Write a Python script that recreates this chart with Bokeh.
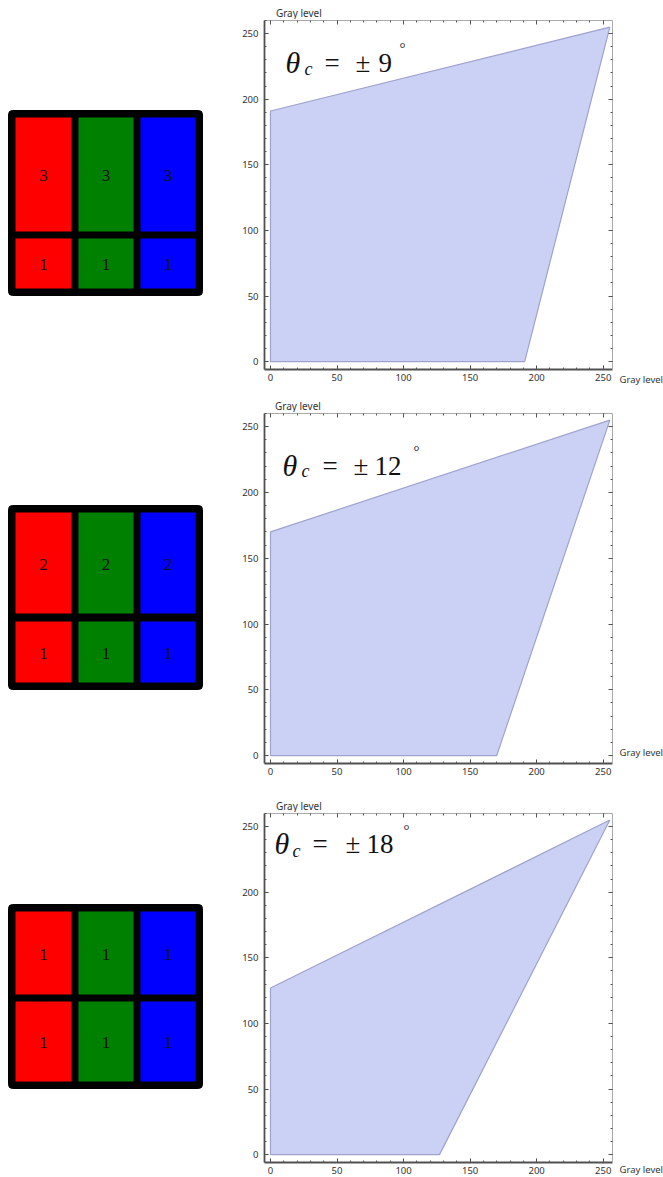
from bokeh.plotting import figure
from bokeh.layouts import column, row
from bokeh.models import Range1d, LinearAxis, SingleIntervalTicker, FixedTicker, Label
from bokeh.core.properties import value
from bokeh.embed import file_html
from bokeh.resources import INLINE

# ---------------- data ----------------
theta_deg = ["9", "12", "18"]
top_levels = ["3", "2", "1"]
bottom_levels = ["1", "1", "1"]
corner_gray = [191, 170, 127]
max_gray = 255
channel_colors = ["#ff0000", "#008000", "#0000ff"]
axis_label = "Gray level"
major_ticks = [0, 50, 100, 150, 200, 250]
minor_ticks = list(range(0, 251, 10))

# ---------------- layout (screen pixels, page origin at 0,0) ----------------
DIAG_W = 220
PLOT_X0 = 220
FRAME_L, FRAME_R = 264, 612
PLOT_X1 = 617
PAGE_R = 663
rows_layout = [
    dict(top=0, bot=395, strip=19, ft=20, fb=369,
         outer=(110, 295), cell_top=(117, 231), cell_bot=(238, 288),
         th=dict(theta=(285, 62), c=(304, 68), eq=(324, 62), pm=(355, 62), num=(378, 62), deg=(399, 47)),
         ylab=(233, 12), xlab=(619, 379)),
    dict(top=395, bot=795, strip=412, ft=413, fb=763,
         outer=(505, 689), cell_top=(512, 613), cell_bot=(621, 682),
         th=dict(theta=(282, 465), c=(301, 470), eq=(322, 465), pm=(353, 465), num=(374, 465), deg=(413, 450)),
         ylab=(232, 405), xlab=(619, 752)),
    dict(top=795, bot=1177, strip=812, ft=813, fb=1162,
         outer=(904, 1088), cell_top=(911, 994), cell_bot=(1001, 1081),
         th=dict(theta=(274, 843), c=(292, 850), eq=(312, 843), pm=(345, 843), num=(366, 843), deg=(403, 829)),
         ylab=(233, 805), xlab=(619, 1169)),
]
col_x = [(15, 71), (78, 133), (140, 195)]
OUTER_X = (8, 202)
XR = (-4.5, 257.0)
YR = (-6.0, 260.0)

FILL = "#cbd0f5"
EDGE = "#9fa3cc"
TICK_FONT = "Noto Sans"
SERIF = "Liberation Serif"


def canvas_fig(x0, x1, y0, y1):
    """A blank figure whose data space equals page pixels."""
    p = figure(width=x1 - x0, height=y1 - y0, x_range=Range1d(x0, x1),
               y_range=Range1d(y1, y0), toolbar_location=None,
               output_backend="svg", min_border=0)
    p.axis.visible = False
    p.xgrid.visible = False
    p.ygrid.visible = False
    p.outline_line_color = None
    return p


def style_main_axis(ax, standoff):
    ax.ticker = SingleIntervalTicker(interval=50, num_minor_ticks=5)
    ax.major_tick_in = 4
    ax.major_tick_out = 0
    ax.minor_tick_in = 2
    ax.minor_tick_out = 0
    ax.axis_line_color = "#505050"
    ax.axis_line_width = 1.8
    ax.major_tick_line_color = "#444444"
    ax.minor_tick_line_color = "#555555"
    ax.major_label_text_font = TICK_FONT
    ax.major_label_text_font_size = "9.5px"
    ax.major_label_text_color = "#333333"
    ax.major_label_standoff = standoff


def mirror_axes(p, side):
    # frame ticks without labels on the top and right (major longer than minor)
    for ticks, length, line_col in ((minor_ticks, 2, "#aaaaaa"), (major_ticks, 4, None)):
        ax = LinearAxis(ticker=FixedTicker(ticks=[], minor_ticks=ticks))
        ax.minor_tick_in = length
        ax.minor_tick_out = 0
        ax.minor_tick_line_color = "#555555"
        ax.major_tick_in = 0
        ax.major_tick_out = 0
        if line_col is None:
            ax.axis_line_color = None
        else:
            ax.axis_line_color = line_col
            ax.axis_line_width = 1
        p.add_layout(ax, side)


def make_diagram(i, L):
    p = canvas_fig(0, DIAG_W, L["top"], L["bot"])
    o0, o1 = L["outer"]
    p.quad(left=[OUTER_X[0]], right=[OUTER_X[1]], top=[o0], bottom=[o1],
           fill_color="black", line_color="black", border_radius=4)
    lefts = [c[0] for c in col_x]
    rights = [c[1] for c in col_x]
    for (t0, t1), labels in ((L["cell_top"], [top_levels[i]] * 3),
                             (L["cell_bot"], [bottom_levels[i]] * 3)):
        p.quad(left=lefts, right=rights, top=[t0] * 3, bottom=[t1] * 3,
               fill_color=channel_colors, line_color=None)
        p.text(x=[(a + b) / 2 for a, b in col_x], y=[(t0 + t1) / 2 + 1] * 3, text=labels,
               text_font=value(SERIF), text_font_size="17px", text_color="#111111",
               text_align="center", text_baseline="middle")
    return p


def make_plot(i, L):
    top_y, ft, fb, bot = L["strip"], L["ft"], L["fb"], L["bot"]
    p = figure(width=PLOT_X1 - PLOT_X0, height=bot - top_y, x_range=Range1d(*XR),
               y_range=Range1d(*YR), toolbar_location=None, output_backend="svg",
               min_border_left=FRAME_L - PLOT_X0, min_border_right=PLOT_X1 - FRAME_R,
               min_border_top=ft - top_y, min_border_bottom=bot - fb)
    p.xgrid.visible = False
    p.ygrid.visible = False
    p.outline_line_color = None
    style_main_axis(p.xaxis[0], 4)
    style_main_axis(p.yaxis[0], 6)
    mirror_axes(p, "above")
    mirror_axes(p, "right")

    g = corner_gray[i]
    p.patch(x=[0, 0, max_gray, g], y=[0, g, max_gray, 0],
            fill_color=FILL, line_color=EDGE, line_width=1.2)

    def to_data(sx, sy):
        dx = XR[0] + (sx - FRAME_L) / (FRAME_R - FRAME_L) * (XR[1] - XR[0])
        dy = YR[0] + (fb - sy) / (fb - ft) * (YR[1] - YR[0])
        return dx, dy

    th = L["th"]
    pieces = [
        ("theta", "θ", "30px", "italic"),
        ("c", "c", "18px", "italic"),
        ("eq", "=", "27px", "normal"),
        ("pm", "±", "27px", "normal"),
        ("num", theta_deg[i], "27px", "normal"),
        ("deg", "°", "15px", "normal"),
    ]
    for key, txt, size, style in pieces:
        x, y = to_data(*th[key])
        p.add_layout(Label(x=x, y=y, text=txt, text_font=SERIF, text_font_size=size,
                           text_font_style=style, text_color="#111111",
                           text_baseline="alphabetic", text_align="left"))
    return p


def make_ystrip(L):
    p = canvas_fig(PLOT_X0, PLOT_X1, L["top"], L["strip"])
    x, y = L["ylab"]
    p.text(x=[x], y=[y], text=[axis_label], text_font=value(TICK_FONT),
           text_font_size="10px", text_color="#333333",
           text_align="left", text_baseline="middle")
    return p


def make_xstrip(L):
    p = canvas_fig(PLOT_X1, PAGE_R, L["top"], L["bot"])
    x, y = L["xlab"]
    p.text(x=[x], y=[y], text=[axis_label], text_font=value(TICK_FONT),
           text_font_size="9.5px", text_color="#333333",
           text_align="left", text_baseline="middle")
    return p


rows_out = []
for i, L in enumerate(rows_layout):
    mid = column(make_ystrip(L), make_plot(i, L), spacing=0)
    rows_out.append(row(make_diagram(i, L), mid, make_xstrip(L), spacing=0))

layout = column(*rows_out, spacing=0)

open("out.html", "w").write(file_html(layout, INLINE))
